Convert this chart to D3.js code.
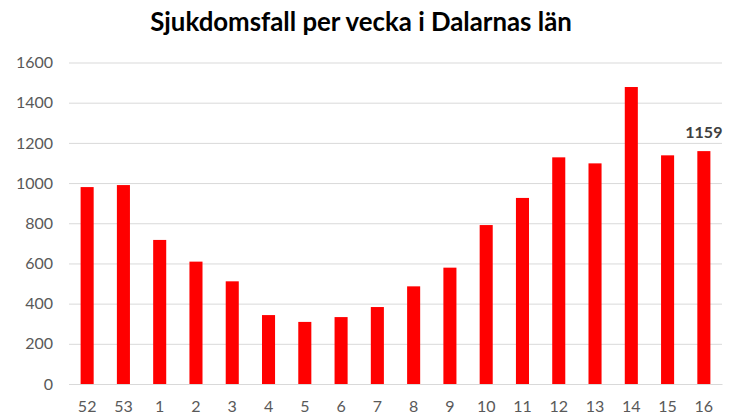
<!DOCTYPE html>
<html><head><meta charset="utf-8">
<script src="https://cdn.jsdelivr.net/npm/d3@7"></script>
<style>body{margin:0;background:#fff}</style>
</head><body>
<svg id="c" width="746" height="419"></svg>
<script>
const weeks = ["52","53","1","2","3","4","5","6","7","8","9","10","11","12","13","14","15","16"];
const cases = [980,990,717,609,511,343,309,333,383,486,579,791,926,1128,1098,1478,1138,1159];
const yTicks = [0,200,400,600,800,1000,1200,1400,1600];
const title = "Sjukdomsfall per vecka i Dalarnas län";
const labelIndex = 17;

const svg = d3.select("#c");
const font = "Lato, 'Open Sans', sans-serif";
const m = {l:69, r:24, t:62.5, b:35};
const W = 746, H = 419;
const x = d3.scaleBand().domain(weeks).range([m.l, W-m.r]).paddingInner(0.64).paddingOuter(0.32);
const y = d3.scaleLinear().domain([0,1600]).range([384, 62.5]);

svg.append("text").attr("x",361).attr("y",31).attr("text-anchor","middle")
  .attr("font-family",font).attr("font-weight","bold").attr("font-size",25.8).attr("fill","#000").text(title);

const ga = svg.append("g").attr("transform",`translate(${m.l},0)`)
  .call(d3.axisLeft(y).tickValues(yTicks).tickFormat(d3.format("d")).tickSize(-(W-m.r-m.l)).tickPadding(16));
ga.select(".domain").remove();
ga.selectAll(".tick line").attr("stroke","#d9d9d9").attr("stroke-width",1);
ga.selectAll(".tick text").attr("font-family",font).attr("font-size",16).attr("fill","#595959");

svg.selectAll("rect.bar").data(cases).join("rect").attr("class","bar")
  .attr("x",(d,i)=>x(weeks[i])).attr("width",x.bandwidth())
  .attr("y",d=>y(d)).attr("height",d=>y(0)-y(d)).attr("fill","#ff0000");

const gx = svg.append("g").attr("transform",`translate(0,${y(0)})`)
  .call(d3.axisBottom(x).tickSize(0).tickPadding(17));
gx.select(".domain").attr("stroke","#d9d9d9");
gx.selectAll(".tick text").attr("font-family",font).attr("font-size",16).attr("fill","#595959");

svg.append("text").attr("x",x(weeks[labelIndex])+x.bandwidth()/2).attr("y",y(cases[labelIndex])-13)
  .attr("text-anchor","middle").attr("font-family",font).attr("font-weight","bold").attr("font-size",16)
  .attr("fill","#404040").text(cases[labelIndex]);
</script>
</body></html>
